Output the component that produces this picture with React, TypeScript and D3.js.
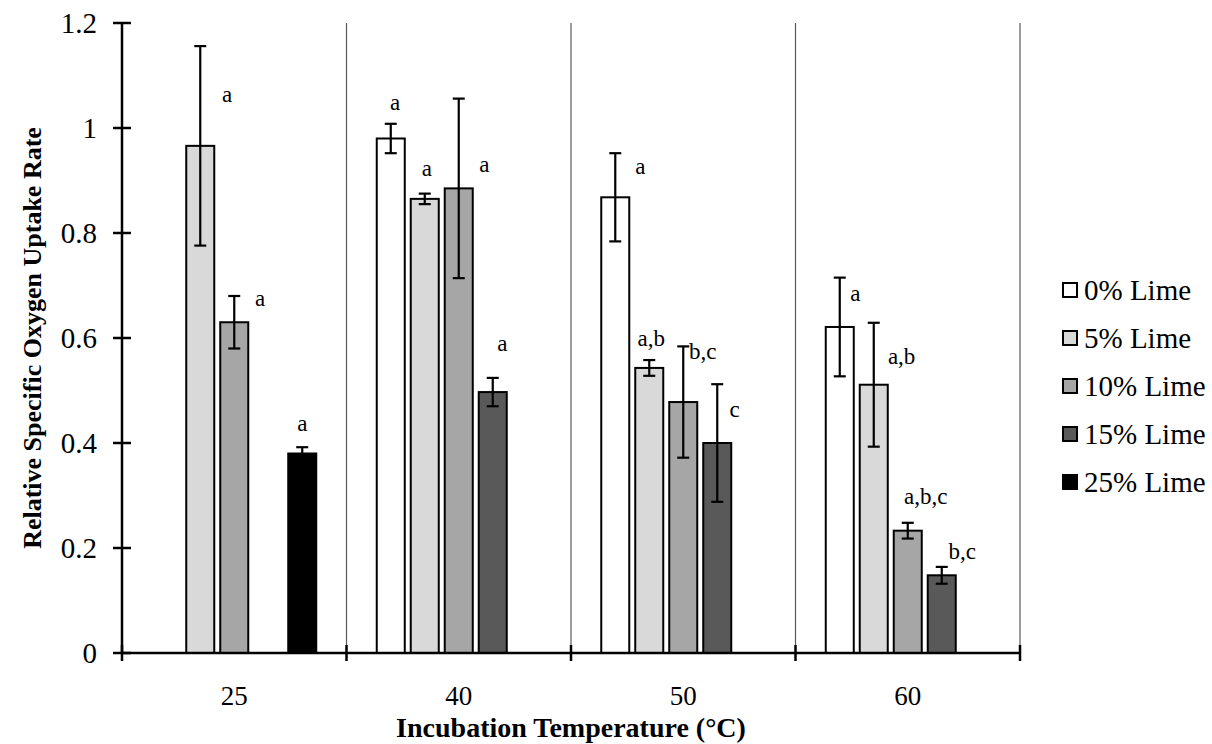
import * as d3 from "d3";

const categories = ["25", "40", "50", "60"];
const seriesNames = ["0% Lime", "5% Lime", "10% Lime", "15% Lime", "25% Lime"];
const seriesFills = ["#ffffff", "#d9d9d9", "#a6a6a6", "#595959", "#000000"];

// mean relative SOUR per series, by temperature (null = not measured)
const lime0 = [null, 0.98, 0.868, 0.621];
const lime5 = [0.966, 0.865, 0.543, 0.511];
const lime10 = [0.63, 0.885, 0.478, 0.233];
const lime15 = [null, 0.497, 0.4, 0.148];
const lime25 = [0.38, null, null, null];

// +/- error
const err0 = [null, 0.028, 0.084, 0.094];
const err5 = [0.19, 0.01, 0.015, 0.118];
const err10 = [0.05, 0.171, 0.106, 0.015];
const err15 = [null, 0.027, 0.112, 0.016];
const err25 = [0.012, null, null, null];

// significance letters
const letters0 = [null, "a", "a", "a"];
const letters5 = ["a", "a", "a,b", "a,b"];
const letters10 = ["a", "a", "b,c", "a,b,c"];
const letters15 = [null, "a", "c", "b,c"];
const letters25 = ["a", null, null, null];

// where each letter sits: height in data units, sideways shift in bar steps
const letterY0 = [null, 1.048, 0.926, 0.685];
const letterY5 = [1.064, 0.922, 0.599, 0.564];
const letterY10 = [0.676, 0.93, 0.574, 0.299];
const letterY15 = [null, 0.59, 0.463, 0.193];
const letterY25 = [0.4375, null, null, null];
const letterDx0 = [null, 0.13, 0.74, 0.46];
const letterDx5 = [0.79, 0.06, 0.06, 0.82];
const letterDx10 = [0.76, 0.75, 0.57, 0.53];
const letterDx15 = [null, 0.28, 0.51, 0.6];
const letterDx25 = [0, null, null, null];

const yTicks = [0, 0.2, 0.4, 0.6, 0.8, 1, 1.2];

const values = [lime0, lime5, lime10, lime15, lime25];
const errors = [err0, err5, err10, err15, err25];
const letters = [letters0, letters5, letters10, letters15, letters25];
const letterY = [letterY0, letterY5, letterY10, letterY15, letterY25];
const letterDx = [letterDx0, letterDx5, letterDx10, letterDx15, letterDx25];

const W = 1212;
const H = 744;
const PLOT = { left: 122, right: 1020, top: 23, bottom: 653 };
const FONT = "Liberation Serif, Times New Roman, serif";
const CAP = 6;

const txt = (size: number, bold = false) => ({
  fontFamily: FONT,
  fontSize: size,
  fontWeight: bold ? 700 : 400,
});

export default function App() {
  const x = d3
    .scaleBand<string>()
    .domain(categories)
    .range([PLOT.left, PLOT.right])
    .padding(0);

  const inner = d3
    .scaleBand<string>()
    .domain(seriesNames)
    .range([0, x.bandwidth()])
    .paddingInner(0.176)
    .paddingOuter(0.89);

  const y = d3.scaleLinear().domain([0, 1.2]).range([PLOT.bottom, PLOT.top]);

  const bw = inner.bandwidth();
  const step = inner.step();
  const boundaries = categories.map((c) => (x(c) ?? 0) + x.bandwidth());

  return (
    <svg
      width={W}
      height={H}
      style={{ position: "absolute", left: 0, top: 0, background: "#fff" }}
    >
      {/* category separators */}
      {boundaries.map((bx) => (
        <line
          key={bx}
          x1={bx}
          x2={bx}
          y1={PLOT.top}
          y2={PLOT.bottom}
          stroke="#595959"
          strokeWidth={1.2}
        />
      ))}

      {/* bars */}
      {seriesNames.map((s, si) =>
        categories.map((c, ci) => {
          const v = values[si][ci];
          if (v == null) return null;
          const bx = (x(c) ?? 0) + (inner(s) ?? 0);
          return (
            <rect
              key={s + c}
              x={bx}
              y={y(v)}
              width={bw}
              height={y(0) - y(v)}
              fill={seriesFills[si]}
              stroke="#000"
              strokeWidth={2}
            />
          );
        })
      )}

      {/* error bars */}
      {seriesNames.map((s, si) =>
        categories.map((c, ci) => {
          const v = values[si][ci];
          const e = errors[si][ci];
          if (v == null || e == null) return null;
          const cx = (x(c) ?? 0) + (inner(s) ?? 0) + bw / 2;
          return (
            <g key={"e" + s + c} stroke="#000" strokeWidth={2.2}>
              <line x1={cx} x2={cx} y1={y(v + e)} y2={y(v - e)} />
              <line x1={cx - CAP} x2={cx + CAP} y1={y(v + e)} y2={y(v + e)} />
              <line x1={cx - CAP} x2={cx + CAP} y1={y(v - e)} y2={y(v - e)} />
            </g>
          );
        })
      )}

      {/* letters */}
      {seriesNames.map((s, si) =>
        categories.map((c, ci) => {
          const t = letters[si][ci];
          const ly = letterY[si][ci];
          if (t == null || ly == null) return null;
          const cx =
            (x(c) ?? 0) + (inner(s) ?? 0) + bw / 2 + (letterDx[si][ci] ?? 0) * step;
          return (
            <text
              key={"l" + s + c}
              x={cx}
              y={y(ly)}
              textAnchor="middle"
              dominantBaseline="central"
              style={txt(23)}
            >
              {t}
            </text>
          );
        })
      )}

      {/* y axis */}
      <line
        x1={PLOT.left}
        x2={PLOT.left}
        y1={PLOT.top}
        y2={PLOT.bottom}
        stroke="#000"
        strokeWidth={2.5}
      />
      {yTicks.map((t) => (
        <g key={t} transform={`translate(${PLOT.left},${y(t)})`}>
          <line x1={-9} x2={9} stroke="#000" strokeWidth={2.5} />
          <text
            x={-25}
            textAnchor="end"
            dominantBaseline="central"
            style={txt(29)}
          >
            {t}
          </text>
        </g>
      ))}

      {/* x axis */}
      <line
        x1={PLOT.left}
        x2={PLOT.right}
        y1={PLOT.bottom}
        y2={PLOT.bottom}
        stroke="#000"
        strokeWidth={2.5}
      />
      {[PLOT.left, ...boundaries].map((bx) => (
        <line
          key={"t" + bx}
          x1={bx}
          x2={bx}
          y1={PLOT.bottom - 8}
          y2={PLOT.bottom + 8}
          stroke="#000"
          strokeWidth={2.5}
        />
      ))}
      {categories.map((c) => (
        <text
          key={"c" + c}
          x={(x(c) ?? 0) + x.bandwidth() / 2}
          y={696}
          textAnchor="middle"
          dominantBaseline="central"
          style={txt(27)}
        >
          {c}
        </text>
      ))}

      {/* axis titles */}
      <text
        x={(PLOT.left + PLOT.right) / 2}
        y={727}
        textAnchor="middle"
        dominantBaseline="central"
        style={txt(28, true)}
      >
        Incubation Temperature (°C)
      </text>
      <text
        transform={`translate(32,${(PLOT.top + PLOT.bottom) / 2}) rotate(-90)`}
        textAnchor="middle"
        dominantBaseline="central"
        style={txt(26, true)}
      >
        Relative Specific Oxygen Uptake Rate
      </text>

      {/* legend */}
      {seriesNames.map((s, si) => (
        <g key={"lg" + s} transform={`translate(1063,${290 + si * 48})`}>
          <rect
            x={0}
            y={-7}
            width={14}
            height={14}
            fill={seriesFills[si]}
            stroke="#000"
            strokeWidth={2}
          />
          <text x={21} dominantBaseline="central" style={txt(29)}>
            {s}
          </text>
        </g>
      ))}
    </svg>
  );
}
